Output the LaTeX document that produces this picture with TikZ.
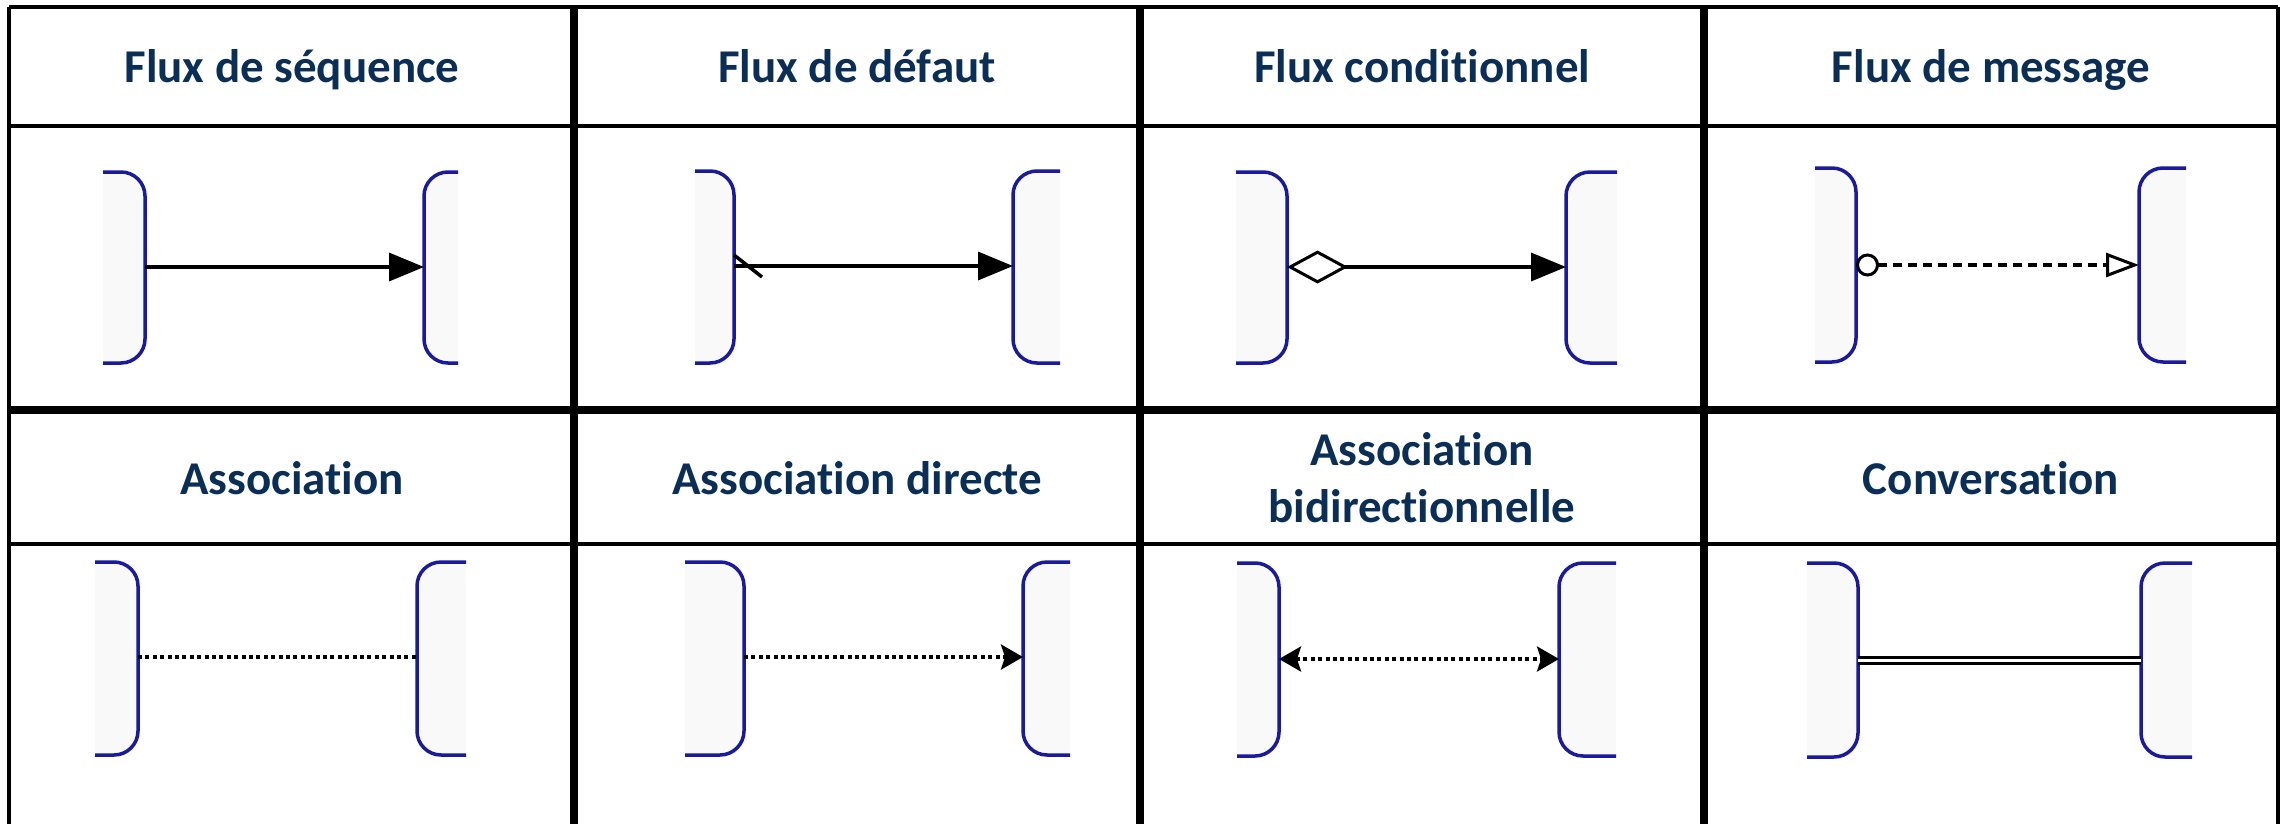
\documentclass[tikz,border=0pt]{standalone}
\usepackage{fontspec}
\setmainfont{Carlito}[Ligatures={NoCommon,NoContextual,NoRare},Contextuals=NoAlternate]
\usetikzlibrary{arrows.meta}
\newcommand\nolig{\kern0pt\relax}
\definecolor{titlec}{HTML}{0A2E56}
\definecolor{poolblue}{HTML}{1A1A9C}
\definecolor{poolfill}{HTML}{F9F9F9}
\tikzset{
  thinrule/.style={line width=3.5pt, draw=black},
  thickrule/.style={line width=7.5pt, draw=black},
  pool/.style={draw=poolblue, fill=poolfill, line width=3.5pt, rounded corners=24pt},
  title/.style={font=\bfseries\fontsize{47}{57}\selectfont, text=titlec, anchor=base, inner sep=0pt},
  flow/.style={line width=3.5pt, draw=black},
  dotline/.style={flow, dash pattern=on 4pt off 3.4pt},
  dashline/.style={flow, dash pattern=on 9pt off 6pt},
  filltip/.tip={Triangle[length=35pt,width=28pt]},
  smalltip/.tip={Stealth[length=22pt,width=25pt,inset=4pt]},
}
% \lpool{name}{x0}{x1}{ytop}{ybot}{ymid}
\newcommand\lpool[6]{%
  \draw[pool] (#2,#4) -- (#3,#4) -- (#3,#5) -- (#2,#5);
  \coordinate (#1) at (#3,#6);}
% \rpool{name}{x0}{x1}{ytop}{ybot}{ymid}
\newcommand\rpool[6]{%
  \draw[pool] (#3,#4) -- (#2,#4) -- (#2,#5) -- (#3,#5);
  \coordinate (#1) at (#2,#6);}
\begin{document}
\begin{tikzpicture}[x=1pt,y=-1pt]
\fill[white] (0,0) rectangle (2282,824);
\useasboundingbox (0,0) rectangle (2282,824);

% table rules
\draw[thinrule] (9,7) -- (2278,7);
\draw[thinrule] (9,126) -- (2278,126);
\draw[thinrule] (9,544) -- (2278,544);
\draw[thinrule] (9,7) -- (9,824);
\draw[thinrule] (2278,7) -- (2278,824);
\draw[thickrule] (9,410) -- (2278,410);
\draw[thickrule] (574,7) -- (574,824);
\draw[thickrule] (1140,7) -- (1140,824);
\draw[thickrule] (1704,7) -- (1704,824);

% titles
\node[title] (t1) at (292,83) {Flux de séquence};
\node[title] (t2) at (857,83) {Flux de défaut};
\node[title] (t3) at (1422,83) {Flux condit\nolig ionnel};
\node[title] (t4) at (1991,83) {Flux de message};
\node[title] (t5) at (292,494) {Associat\nolig ion};
\node[title] (t6) at (857,494) {Associat\nolig ion directe};
\node[title] (t7) at (1422,522) {\begin{tabular}[b]{@{}c@{}}Associat\nolig ion\\bidirect\nolig ionnelle\end{tabular}};
\node[title] (t8) at (1991,494) {Conversat\nolig ion};

% row 1
\lpool{a1}{103}{145}{172}{363}{267}
\rpool{b1}{424}{458}{172}{363}{267}
\draw[flow, -filltip] (a1) -- (b1);

\lpool{a2}{695}{734}{171}{363}{266}
\rpool{b2}{1013}{1060}{171}{363}{266}
\draw[flow, -filltip] (a2) -- (b2);
\draw[flow] ([shift={(0,-11)}]a2) -- ([shift={(28,11)}]a2);

\lpool{a3}{1236}{1287}{172}{363}{267}
\rpool{b3}{1566}{1617}{172}{363}{267}
\draw[flow, {Diamond[open,length=61pt,width=33pt,line width=3pt]}-filltip] (a3) -- (b3);

\lpool{a4}{1815}{1856}{168}{362}{265}
\rpool{b4}{2139}{2186}{168}{362}{265}
\draw[dashline, {Circle[open,length=23pt,line width=3pt]}-{Triangle[open,length=33pt,width=24pt,line width=3pt]}] (a4) -- (b4);

% row 2
\lpool{a5}{95}{138}{562}{755}{657}
\rpool{b5}{417}{466}{562}{755}{657}
\draw[dotline] (a5) -- (b5);

\lpool{a6}{685}{744}{562}{755}{657}
\rpool{b6}{1023}{1070}{562}{755}{657}
\draw[dotline, -smalltip] (a6) -- (b6);

\lpool{a7}{1237}{1279}{563}{756}{659}
\rpool{b7}{1559}{1616}{563}{756}{659}
\draw[dotline, smalltip-smalltip] (a7) -- (b7);

\lpool{a8}{1807}{1858}{563}{757}{660}
\rpool{b8}{2141}{2192}{563}{757}{660}
\draw[line width=3pt, double=white, double distance=3pt] (a8) -- (b8);
\end{tikzpicture}
\end{document}
